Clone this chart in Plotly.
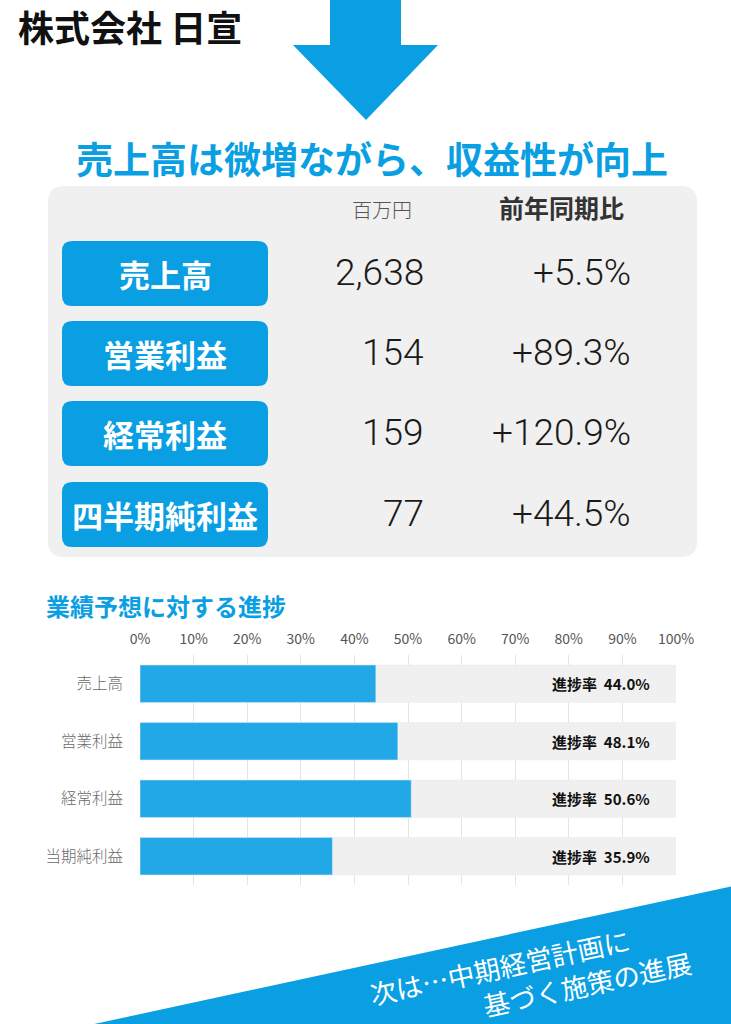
import plotly.graph_objects as go

W, H = 731, 1024
BLUE = "#0A9FE3"
BAR_BLUE = "#22A8E6"
GREY_BG = "#F0F0F0"
JP = "Noto Sans CJK JP"

# results table
items = ["売上高", "営業利益", "経常利益", "四半期純利益"]
amounts = ["2,638", "154", "159", "77"]
yoy = ["+5.5%", "+89.3%", "+120.9%", "+44.5%"]

# progress vs. forecast
categories = ["売上高", "営業利益", "経常利益", "当期純利益"]
progress = [44.0, 48.1, 50.6, 35.9]
full = [100, 100, 100, 100]
tick_vals = [0, 10, 20, 30, 40, 50, 60, 70, 80, 90, 100]
tick_text = ["0%", "10%", "20%", "30%", "40%", "50%", "60%", "70%", "80%", "90%", "100%"]


def X(p):
    return p / W


def Y(p):
    return 1 - p / H


def rrect(x0, y0, x1, y1, r):
    pts = [
        f"M{X(x0 + r)},{Y(y0)}", f"L{X(x1 - r)},{Y(y0)}",
        f"Q{X(x1)},{Y(y0)} {X(x1)},{Y(y0 + r)}", f"L{X(x1)},{Y(y1 - r)}",
        f"Q{X(x1)},{Y(y1)} {X(x1 - r)},{Y(y1)}", f"L{X(x0 + r)},{Y(y1)}",
        f"Q{X(x0)},{Y(y1)} {X(x0)},{Y(y1 - r)}", f"L{X(x0)},{Y(y0 + r)}",
        f"Q{X(x0)},{Y(y0)} {X(x0 + r)},{Y(y0)}", "Z",
    ]
    return " ".join(pts)


def poly(points):
    return "M" + " L".join(f"{X(a)},{Y(b)}" for a, b in points) + " Z"


fig = go.Figure()
fig.add_trace(go.Bar(y=categories, x=full, orientation="h",
                     marker_color=GREY_BG, hoverinfo="skip"))
fig.add_trace(go.Bar(y=categories, x=progress, orientation="h",
                     marker_color=BAR_BLUE))

shapes = []
# arrow
shapes.append(dict(type="path", xref="paper", yref="paper", line_width=0,
                   fillcolor=BLUE,
                   path=poly([(330, -2), (401, -2), (401, 45), (438, 45),
                              (366, 120), (293, 45), (330, 45)])))
# table background
shapes.append(dict(type="path", xref="paper", yref="paper", line_width=0,
                   fillcolor=GREY_BG, path=rrect(48, 186, 697, 557, 16)))
box_top = [241, 321, 401, 482]
for t in box_top:
    shapes.append(dict(type="path", xref="paper", yref="paper", line_width=0,
                       fillcolor=BLUE, path=rrect(62, t, 268, t + 65, 10)))
# bottom banner
shapes.append(dict(type="path", xref="paper", yref="paper", line_width=0,
                   fillcolor=BLUE,
                   path=poly([(85, 1026), (733, 886), (733, 1026)])))

ann = []
ann.append(dict(x=X(130), y=Y(26), text="<b>株式会社 日宣</b>",
                font=dict(family=JP, size=36, color="#111")))
ann.append(dict(x=X(372), y=Y(158), text="<b>売上高は微増ながら、収益性が向上</b>",
                font=dict(family=JP, size=37, color=BLUE)))
ann.append(dict(x=X(382), y=Y(209), text="百万円",
                font=dict(family=JP, size=20, color="#555", weight=300)))
ann.append(dict(x=X(561), y=Y(207), text="<b>前年同期比</b>",
                font=dict(family=JP, size=25, color="#333")))
for i, t in enumerate(box_top):
    yc = t + 32
    ann.append(dict(x=X(165), y=Y(yc), text=f"<b>{items[i]}</b>",
                    font=dict(family=JP, size=31, color="white")))
    ann.append(dict(x=X(426), y=Y(yc - 1), text=amounts[i], xanchor="right",
                    font=dict(family="Roboto", size=37, color="#1a1a1a", weight=300)))
    ann.append(dict(x=X(633), y=Y(yc - 1), text=yoy[i], xanchor="right",
                    font=dict(family="Roboto", size=37, color="#1a1a1a", weight=300)))
ann.append(dict(x=X(166), y=Y(605), text="<b>業績予想に対する進捗</b>",
                font=dict(family=JP, size=24, color=BLUE)))
for c, v in zip(categories, progress):
    ann.append(dict(x=95.5, y=c, xref="x", yref="y", xanchor="right",
                    text=f"<b>進捗率  {v:.1f}%</b>",
                    font=dict(family=JP, size=15, color="#111")))
ann.append(dict(x=X(499), y=Y(966), text="次は…中期経営計画に", textangle=-12,
                font=dict(family=JP, size=26.5, color="white")))
ann.append(dict(x=X(587), y=Y(983), text="基づく施策の進展", textangle=-12,
                font=dict(family=JP, size=26.5, color="white")))
for a in ann:
    a.setdefault("xref", "paper")
    a.setdefault("yref", "paper")
    a.setdefault("xanchor", "center")
    a.setdefault("yanchor", "middle")
    a["showarrow"] = False

fig.update_layout(
    width=W, height=H, autosize=False,
    margin=dict(l=0, r=0, t=0, b=0, pad=0, autoexpand=False),
    paper_bgcolor="white", plot_bgcolor="white",
    showlegend=False, barmode="overlay", bargap=0.35,
    shapes=shapes, annotations=ann,
    xaxis=dict(domain=[X(140), X(676)], range=[0, 100], side="top",
               tickvals=tick_vals, ticktext=tick_text, showgrid=True,
               gridcolor="#E4E4E4", gridwidth=1, zeroline=False,
               ticklabelstandoff=7, fixedrange=True, automargin=False,
               tickfont=dict(family=JP, size=14, color="#555")),
    yaxis=dict(domain=[Y(885), Y(655)], autorange="reversed",
               showgrid=False, ticklabelstandoff=16, fixedrange=True,
               automargin=False,
               tickfont=dict(family=JP, size=15.5, color="#6a6a6a", weight=300)),
)

fig.write_html(
    "out.html",
    config={"displayModeBar": False, "responsive": False},
    post_script="document.body.style.margin='0';"
                "document.body.style.overflow='hidden';"
                "document.documentElement.style.overflow='hidden';",
)
